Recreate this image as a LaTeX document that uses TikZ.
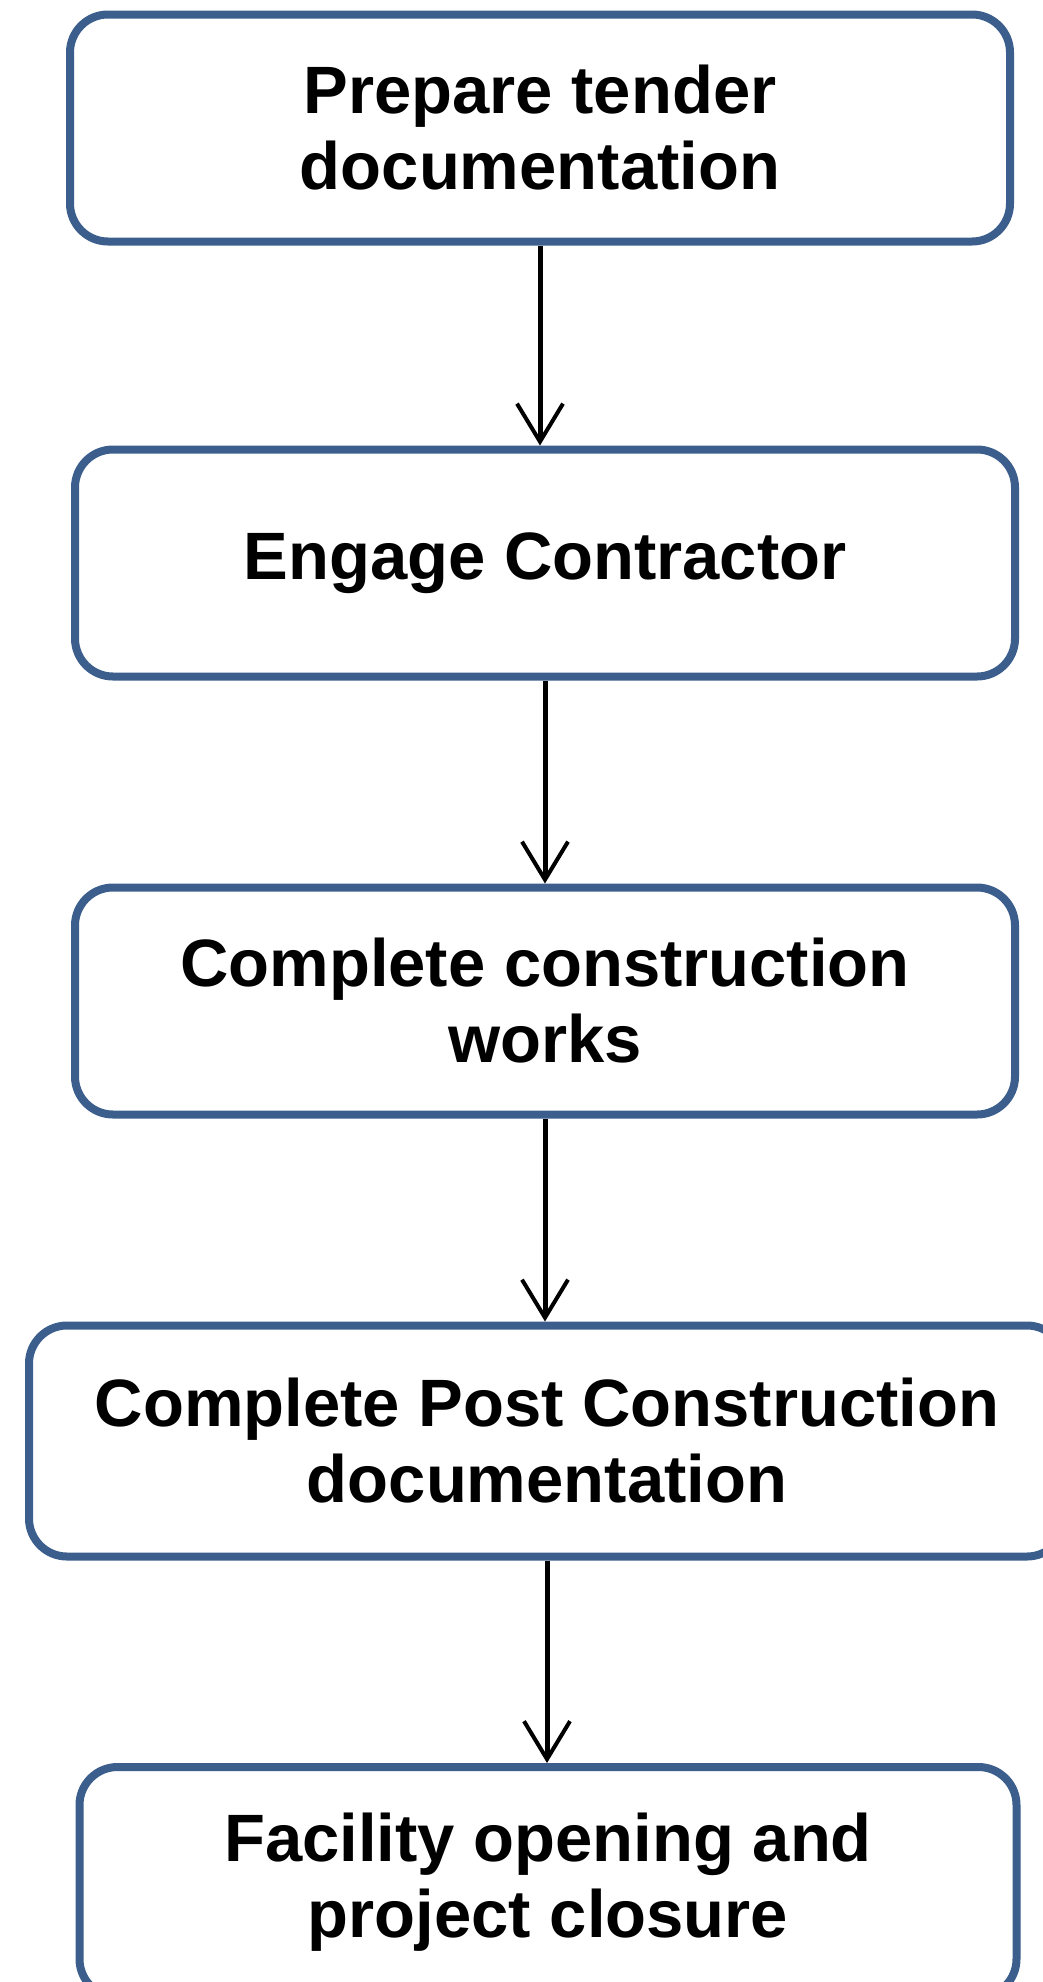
\documentclass[tikz,border=0pt]{standalone}
\usepackage{fontspec}
\setmainfont{Liberation Sans}
\usetikzlibrary{arrows.meta}
\definecolor{stageblue}{RGB}{59,94,140}

\begin{document}
\begin{tikzpicture}[x=1pt,y=-1pt,
    stage/.style={draw=stageblue,line width=8pt,rounded corners=38pt,fill=white,
        minimum width=940pt,minimum height=227pt,inner sep=0pt,align=center,
        font=\fontsize{67}{76}\selectfont\bfseries},
    flow/.style={line width=5pt,-{Straight Barb[length=38pt,width=46pt,line width=4pt]}}]
    \useasboundingbox (0,0) rectangle (1042,1982);
    \node[stage] (tender) at (540,128) {Prepare tender\\documentation};
    \node[stage] (engage) at (545,563) {Engage Contractor};
    \node[stage] (works) at (545,1001) {Complete construction\\works};
    \node[stage,minimum width=1036pt,minimum height=231pt] (post) at (547,1441) {Complete Post Construction\\documentation};
    \node[stage,minimum width=937pt,minimum height=230pt] (closure) at (548,1882) {Facility opening and\\project closure};
    \draw[flow] (tender.south) -- (tender.south |- engage.north);
    \draw[flow] (engage.south) -- (engage.south |- works.north);
    \draw[flow] (works.south) -- (works.south |- post.north);
    \draw[flow] (post.south) -- (post.south |- closure.north);
\end{tikzpicture}
\end{document}
